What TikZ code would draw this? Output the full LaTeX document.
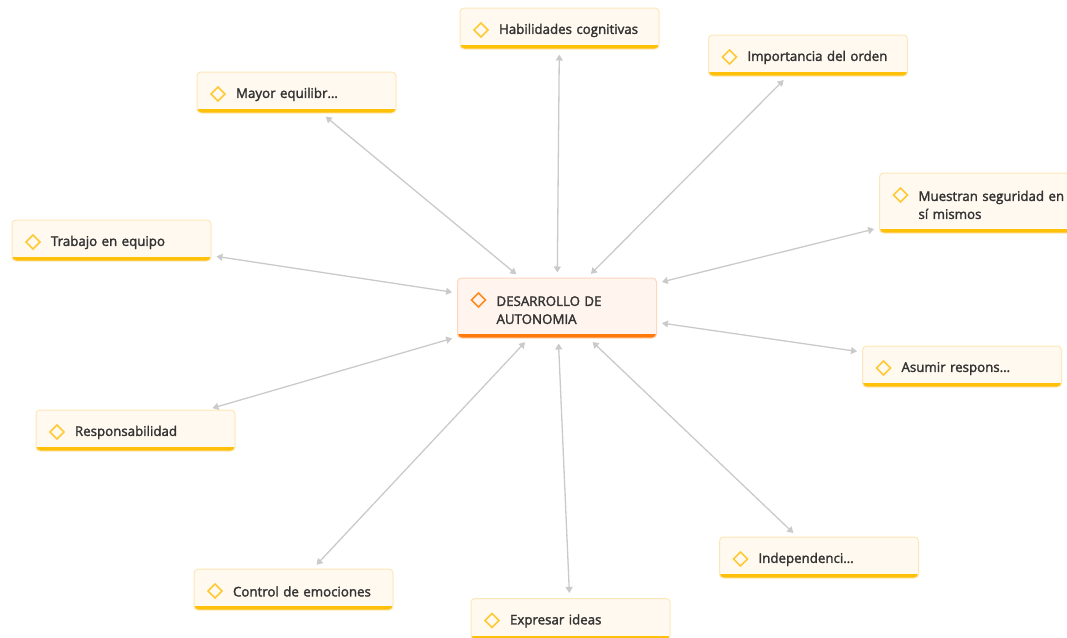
\documentclass[tikz,border=0pt]{standalone}
\usepackage{fontspec}
\newfontfamily\cardfont{Open Sans}[FakeBold=2]
\usetikzlibrary{arrows.meta}

\definecolor{txt}{HTML}{333333}
\definecolor{itemfill}{HTML}{FFF9F0}
\definecolor{itemline}{HTML}{FCE7B8}
\definecolor{itembar}{HTML}{FFC00A}
\definecolor{itemmark}{HTML}{FFC935}
\definecolor{rootfill}{HTML}{FFF4EE}
\definecolor{rootline}{HTML}{FFD6BE}
\definecolor{rootbar}{HTML}{FF7A0A}
\definecolor{rootmark}{HTML}{FF8A1F}
\definecolor{linkgray}{HTML}{CACACA}

\begin{document}
\begin{tikzpicture}[x=1pt,y=-1pt,
    card/.style n args={4}{rectangle, rounded corners=4pt, fill=#1, draw=#2,
       line width=1pt, text=txt, font=\cardfont\fontsize{13.3}{18}\selectfont,
       inner xsep=10pt, inner ysep=0pt, text width=179pt, minimum height=41pt,
       execute at begin node={\rule{0pt}{14pt}\leftskip=29pt\rightskip=0pt plus 1fil\parindent=0pt},
       path picture={
         \fill[#3, sharp corners] ([yshift=4pt]path picture bounding box.south west)
            rectangle (path picture bounding box.south east);
         \draw[#4, line width=1.5pt, sharp corners]
            ([xshift=14pt,yshift=-22pt]path picture bounding box.north west)
            -- ++(7pt,7pt) -- ++(7pt,-7pt) -- ++(-7pt,-7pt) -- cycle;
       }},
    item/.style={card={itemfill}{itemline}{itembar}{itemmark}},
    root/.style={card={rootfill}{rootline}{rootbar}{rootmark}, minimum height=60pt},
    link/.style={{Triangle[width=7pt,length=6pt]}-{Triangle[width=7pt,length=6pt]},
       draw=linkgray, line width=1.3pt, shorten <=5pt, shorten >=5pt}]

       \useasboundingbox (0,0) rectangle (1067,637);

       \node(C)[root] at (557,308) {DESARROLLO DE\\AUTONOMIA};

       \node(H)[item] at (559.5,28.5) {Habilidades cognitivas};
       \node(I)[item] at (808,55.5) {Importancia del orden};
       \node(M)[item] at (296.5,92.5) {Mayor equilibr…};
       \node(S)[item, minimum height=60pt] at (979,203) {Muestran seguridad en\\sí mismos};
       \node(T)[item] at (111.5,240.5) {Trabajo en equipo};
       \node(A)[item] at (962,366.5) {Asumir respons…};
       \node(R)[item] at (135.5,430.5) {Responsabilidad};
       \node(N)[item] at (819,557.5) {Independenci…};
       \node(E)[item] at (293.5,589.5) {Control de emociones};
       \node(X)[item] at (570.5,619) {Expresar ideas};

       \draw[link] (C) -- (H);
       \draw[link] (C) -- (I);
       \draw[link] (C) -- (M);
       \draw[link] (C) -- (S);
       \draw[link] (C) -- (T);
       \draw[link] (C) -- (A);
       \draw[link] (C) -- (R);
       \draw[link] (C) -- (N);
       \draw[link] (C) -- (E);
       \draw[link] (C) -- (X);

      \end{tikzpicture}
\end{document}
